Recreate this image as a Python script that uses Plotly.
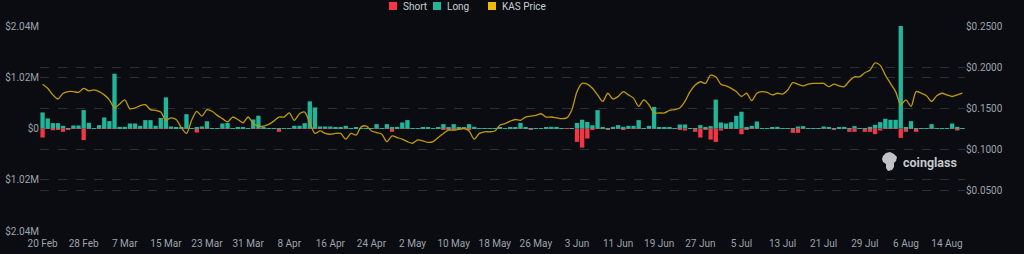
import datetime as dt
import plotly.graph_objects as go

# ---------------- data ----------------
start_date = dt.date(2024, 2, 20)
n_days = 180
dates = [start_date + dt.timedelta(days=i) for i in range(n_days)]

# Long liquidations (thousand USD)
long_k = [320, 200, 107, 107, 53, 10, 60, 60, 367, 113,
          8, 67, 220, 147, 1090, 33, 33, 100, 100, 53,
          167, 167, 53, 210, 620, 40, 25, 30, 285, 10,
          30, 40, 145, 8, 5, 100, 110, 10, 20, 20,
          5, 180, 255, 25, 10, 10, 10, 8, 10, 55,
          55, 105, 540, 420, 40, 40, 40, 20, 20, 53,
          5, 20, 5, 8, 8, 87, 8, 87, 20, 33,
          120, 167, 8, 8, 20, 20, 8, 20, 87, 20,
          87, 20, 20, 87, 33, 8, 8, 5, 8, 20,
          8, 20, 20, 113, 20, 5, 8, 10, 20, 33,
          33, 8, 0, 8, 110, 175, 130, 65, 365, 20,
          5, 33, 67, 33, 53, 53, 167, 5, 53, 430,
          20, 20, 20, 8, 80, 80, 8, 5, 67, 20,
          47, 575, 120, 100, 125, 253, 333, 20, 53, 140,
          8, 10, 20, 33, 8, 5, 10, 40, 47, 5,
          5, 5, 40, 20, 8, 20, 33, 5, 47, 5,
          8, 33, 73, 127, 193, 173, 173, 2450, 20, 147,
          8, 8, 8, 87, 8, 5, 8, 100, 33, 5]

# Short liquidations (thousand USD, magnitude)
short_k = [180, 10, 35, 20, 67, 30, 5, 5, 230, 5,
           5, 5, 5, 5, 10, 5, 3, 3, 3, 3,
           3, 3, 3, 3, 5, 3, 3, 3, 3, 5,
           80, 5, 5, 3, 10, 3, 3, 3, 3, 3,
           10, 3, 3, 3, 5, 3, 67, 3, 3, 3,
           3, 3, 3, 3, 3, 3, 3, 3, 3, 3,
           10, 3, 10, 3, 3, 3, 3, 3, 67, 3,
           3, 3, 3, 3, 3, 3, 3, 3, 30, 20,
           30, 3, 3, 30, 3, 3, 3, 10, 3, 3,
           3, 3, 3, 3, 3, 20, 5, 3, 3, 3,
           3, 3, 3, 3, 267, 380, 200, 30, 10, 3,
           20, 3, 3, 30, 3, 3, 3, 10, 3, 3,
           3, 3, 3, 3, 30, 40, 3, 67, 180, 30,
           220, 267, 40, 3, 3, 3, 113, 30, 3, 3,
           3, 3, 3, 3, 3, 3, 87, 87, 3, 3,
           3, 3, 3, 3, 20, 3, 3, 67, 67, 3,
           67, 67, 113, 40, 3, 3, 3, 187, 67, 3,
           67, 3, 3, 3, 3, 10, 3, 3, 40, 3]

# KAS price (USD)
kas_price = [0.179, 0.174, 0.166, 0.161, 0.168, 0.170, 0.170, 0.169, 0.174, 0.171,
             0.172, 0.170, 0.166, 0.160, 0.150, 0.155, 0.160, 0.149, 0.150, 0.153,
             0.154, 0.148, 0.147, 0.145, 0.135, 0.138, 0.136, 0.126, 0.119, 0.135,
             0.146, 0.140, 0.148, 0.146, 0.141, 0.137, 0.133, 0.139, 0.136, 0.132,
             0.139, 0.131, 0.128, 0.128, 0.130, 0.134, 0.139, 0.139, 0.144, 0.135,
             0.143, 0.145, 0.132, 0.119, 0.122, 0.119, 0.118, 0.119, 0.119, 0.112,
             0.119, 0.117, 0.127, 0.128, 0.122, 0.120, 0.118, 0.109, 0.116, 0.114,
             0.112, 0.109, 0.107, 0.111, 0.110, 0.108, 0.109, 0.114, 0.119, 0.123,
             0.123, 0.124, 0.125, 0.122, 0.112, 0.119, 0.121, 0.121, 0.122, 0.129,
             0.131, 0.134, 0.136, 0.135, 0.139, 0.140, 0.141, 0.143, 0.139, 0.139,
             0.138, 0.137, 0.138, 0.148, 0.170, 0.180, 0.179, 0.174, 0.166, 0.158,
             0.168, 0.161, 0.164, 0.170, 0.166, 0.162, 0.152, 0.160, 0.154, 0.144,
             0.144, 0.144, 0.147, 0.148, 0.150, 0.158, 0.170, 0.178, 0.182, 0.180,
             0.190, 0.188, 0.179, 0.177, 0.174, 0.170, 0.164, 0.168, 0.159, 0.168,
             0.170, 0.169, 0.166, 0.168, 0.167, 0.172, 0.181, 0.179, 0.177, 0.179,
             0.180, 0.180, 0.180, 0.176, 0.179, 0.177, 0.176, 0.183, 0.188, 0.188,
             0.193, 0.196, 0.205, 0.202, 0.190, 0.180, 0.170, 0.154, 0.160, 0.152,
             0.170, 0.168, 0.165, 0.158, 0.165, 0.168, 0.166, 0.164, 0.166, 0.168]

series_names = ["Short", "Long", "KAS Price"]
left_tickvals = [-2.04e6, -1.02e6, 0, 1.02e6, 2.04e6]
left_ticktext = ["$2.04M", "$1.02M", "$0", "$1.02M", "$2.04M"]
right_tickvals = [0.05, 0.10, 0.15, 0.20, 0.25]
right_ticktext = ["$0.0500", "$0.1000", "$0.1500", "$0.2000", "$0.2500"]
x_tick_dates = [start_date + dt.timedelta(days=8 * i) for i in range(23)]
x_tick_text = [f"{d.day} {d.strftime('%b')}" for d in x_tick_dates]

# ---------------- style ----------------
BG = "#0a0c11"
RED = "#f23645"
TEAL = "#22b59a"
GOLD = "#f0b90b"
GOLD_LINE = "#bf990c"
GRID = "#2a2e37"
TXT = "#9ea3ab"
FONT = "Roboto, Inter, Arial, sans-serif"

fig = go.Figure()
fig.add_trace(go.Bar(x=dates, y=[-v * 1000 for v in short_k], name=series_names[0],
                     marker=dict(color=RED, line=dict(width=0)), yaxis="y"))
fig.add_trace(go.Bar(x=dates, y=[v * 1000 for v in long_k], name=series_names[1],
                     marker=dict(color=TEAL, line=dict(width=0)), yaxis="y"))
fig.add_trace(go.Scatter(x=dates, y=kas_price, name=series_names[2], mode="lines",
                         line=dict(color=GOLD_LINE, width=1.3, shape="spline", smoothing=0.8),
                         yaxis="y2"))

L, R, T, B = 40, 59, 26, 23
W, H = 1024, 254
pw, ph = W - L - R, H - T - B


def px(xp, yp):
    return (xp - L) / pw, (H - B - yp) / ph


shapes = []
annotations = []

# manual compact legend (square swatch + label)
legend_items = [(389, RED), (433, TEAL), (488, GOLD)]
for (sx, col), name in zip(legend_items, series_names):
    x0, y0 = px(sx, 10)
    x1, y1 = px(sx + 8, 2)
    shapes.append(dict(type="rect", xref="paper", yref="paper", x0=x0, y0=y0, x1=x1, y1=y1,
                       fillcolor=col, line=dict(width=0), layer="above"))
    tx, ty = px(sx + 12, 6.5)
    annotations.append(dict(x=tx, y=ty, xref="paper", yref="paper", text=name,
                            showarrow=False, xanchor="left", yanchor="middle",
                            font=dict(size=10, color="#c9ccd1", family=FONT)))

# coinglass watermark (rough icon + text)
icon_pts = [(883, 156), (886, 153), (890, 152), (894, 154), (897, 157), (896, 161),
            (894, 163), (894, 167), (892, 170), (888, 171), (886, 168), (886, 164),
            (883, 162), (882, 159)]
path = "M " + " L ".join(f"{px(a, b)[0]:.5f},{px(a, b)[1]:.5f}" for a, b in icon_pts) + " Z"
shapes.append(dict(type="path", xref="paper", yref="paper", path=path,
                   fillcolor="#bfc2c7", line=dict(width=0), layer="above"))
wx, wy = px(930, 163)
annotations.append(dict(x=wx, y=wy, xref="paper", yref="paper", text="<b>coinglass</b>",
                        showarrow=False, xanchor="center", yanchor="middle",
                        font=dict(size=12.5, color="#c6c8cc", family=FONT)))

fig.update_layout(
    width=W, height=H,
    margin=dict(l=L, r=R, t=T, b=B, autoexpand=False),
    paper_bgcolor=BG, plot_bgcolor=BG,
    barmode="relative", bargap=0.16,
    font=dict(family=FONT, size=10, color=TXT),
    showlegend=False,
    xaxis=dict(type="date",
               range=[dt.datetime(2024, 2, 19, 12), dt.datetime(2024, 8, 17, 12)],
               tickvals=x_tick_dates, ticktext=x_tick_text,
               showgrid=False, zeroline=False, showline=False, ticks="",
               ticklabelstandoff=5,
               tickfont=dict(size=10, color=TXT)),
    yaxis=dict(range=[-2.04e6, 2.04e6], tickvals=left_tickvals, ticktext=left_ticktext,
               showgrid=True, gridcolor=GRID, griddash="dash", gridwidth=1,
               zeroline=False, showline=False, ticks="",
               tickfont=dict(size=10, color=TXT)),
    yaxis2=dict(range=[0, 0.25], overlaying="y", side="right",
                tickvals=right_tickvals, ticktext=right_ticktext,
                showgrid=True, gridcolor=GRID, griddash="dash", gridwidth=1,
                zeroline=False, showline=False, ticks="",
                tickfont=dict(size=10, color=TXT)),
    shapes=shapes,
    annotations=annotations,
)

fig.write_html("out.html")
